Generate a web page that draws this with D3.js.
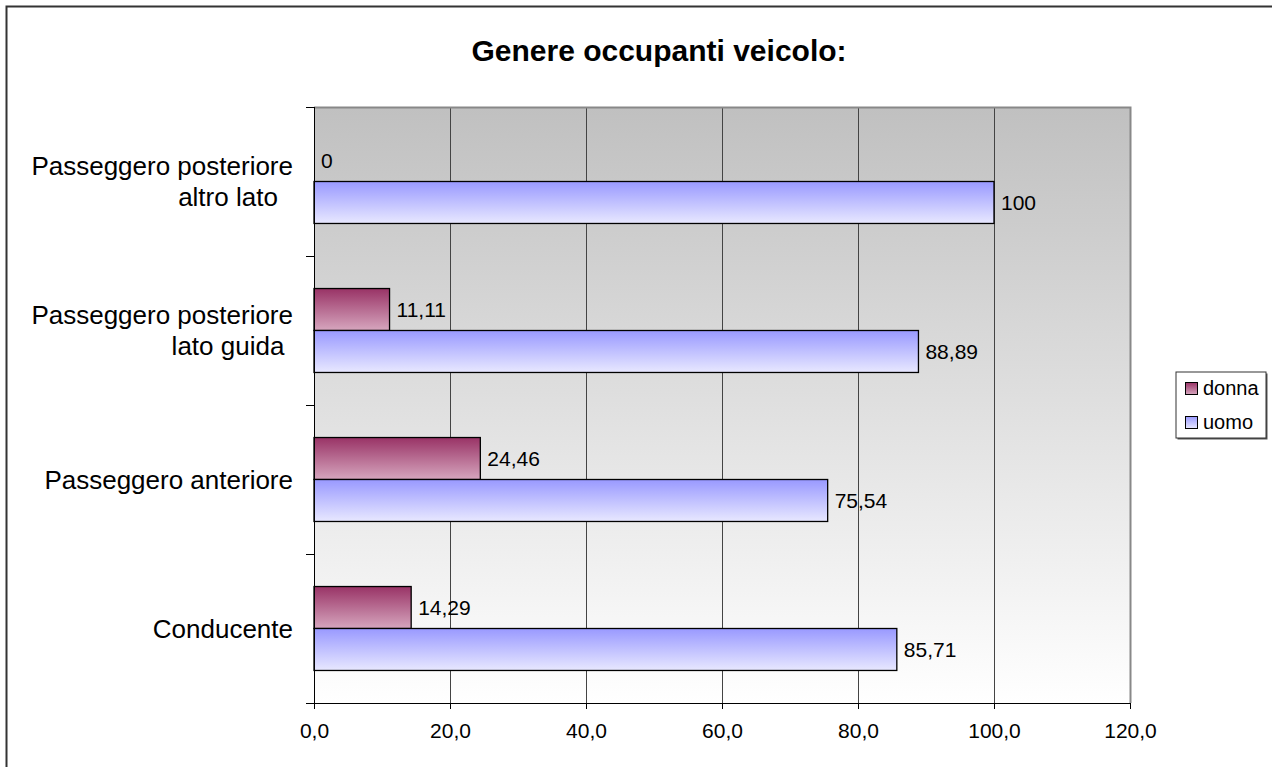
<!DOCTYPE html>
<html>
<head>
<meta charset="utf-8">
<script src="https://cdn.jsdelivr.net/npm/d3@7"></script>
<style>
  body { margin: 0; background: #fff; }
  svg { display: block; font-family: "Liberation Sans", Arial, sans-serif; }
</style>
</head>
<body>
<div id="chart"></div>
<script>
// data, top to bottom as drawn
var categories = [
	["Passeggero posteriore", "altro lato"],
	["Passeggero posteriore", "lato guida"],
	["Passeggero anteriore"],
	["Conducente"]
];
var donna = [0, 11.11, 24.46, 14.29];
var uomo = [100, 88.89, 75.54, 85.71];
var seriesNames = ["donna", "uomo"];
var xTicks = [0, 20, 40, 60, 80, 100, 120];

var W = 1272, H = 767;
var plot = {left: 314, top: 107, right: 1130, bottom: 703};

var svg = d3.select("#chart").append("svg")
	.attr("width", W)
	.attr("height", H);

var defs = svg.append("defs");
function vgrad(id, c1, c2){
	var g = defs.append("linearGradient").attr("id", id)
		.attr("x1", 0).attr("y1", 0).attr("x2", 0).attr("y2", 1);
	g.append("stop").attr("offset", "0%").attr("stop-color", c1);
	g.append("stop").attr("offset", "100%").attr("stop-color", c2);
}
vgrad("bg", "#c0c0c0", "#ffffff");
vgrad("gDonna", "#993366", "#d6a6be");
vgrad("gUomo", "#9999ff", "#e8e8ff");

// outer border
svg.append("rect")
	.attr("x", 6.5).attr("y", 6.5)
	.attr("width", 1300).attr("height", 800)
	.attr("fill", "#fff")
	.attr("stroke", "#333")
	.attr("stroke-width", 2);

svg.append("text")
	.attr("x", 659).attr("y", 61)
	.attr("text-anchor", "middle")
	.style("font-size", "30px")
	.style("font-weight", "bold")
	.text("Genere occupanti veicolo:");

var x = d3.scaleLinear().domain([0, 120]).range([plot.left, plot.right]);
var y = d3.scaleBand().domain(d3.range(categories.length)).range([plot.top, plot.bottom]);
var yEdge = d3.scaleLinear().domain([0, categories.length]).range([plot.top, plot.bottom]);
var inner = d3.scaleBand().domain(seriesNames).range([0, y.bandwidth()]).paddingOuter(0.775);

// plot area
svg.append("rect")
	.attr("x", plot.left).attr("y", plot.top)
	.attr("width", plot.right - plot.left)
	.attr("height", plot.bottom - plot.top)
	.attr("fill", "url(#bg)");

// gridlines
svg.append("g")
	.selectAll("line")
	.data(xTicks.filter(function(d){ return d > 0 && d < 120; }))
	.enter().append("line")
	.attr("x1", function(d){ return Math.round(x(d)) + 0.5; })
	.attr("x2", function(d){ return Math.round(x(d)) + 0.5; })
	.attr("y1", plot.top).attr("y2", plot.bottom)
	.attr("stroke", "#444")
	.attr("stroke-width", 1);

// plot border (top + right)
svg.append("path")
	.attr("d", "M" + plot.left + "," + (plot.top + 0.5) + "H" + (plot.right + 0.5) + "V" + plot.bottom)
	.attr("fill", "none")
	.attr("stroke", "#888")
	.attr("stroke-width", 2);

// bars
var rows = categories.map(function(c, i){ return {i: i, donna: donna[i], uomo: uomo[i]}; });
var grads = {donna: "url(#gDonna)", uomo: "url(#gUomo)"};

seriesNames.forEach(function(s){
	svg.selectAll(".bar-" + s)
		.data(rows)
		.enter().append("rect")
		.attr("class", "bar-" + s)
		.attr("x", x(0))
		.attr("y", function(d){ return y(d.i) + inner(s); })
		.attr("width", function(d){ return x(d[s]) - x(0); })
		.attr("height", inner.bandwidth())
		.attr("fill", grads[s])
		.attr("stroke", "#000")
		.attr("stroke-width", 1.3);

	svg.selectAll(".lab-" + s)
		.data(rows)
		.enter().append("text")
		.attr("class", "lab-" + s)
		.attr("x", function(d){ return x(d[s]) + 7; })
		.attr("y", function(d){ return y(d.i) + inner(s) + inner.bandwidth() / 2; })
		.attr("dy", "0.35em")
		.style("font-size", "21px")
		.text(function(d){ return String(d[s]).replace(".", ","); });
});

// x axis
var xAxis = svg.append("g")
	.attr("transform", "translate(0," + plot.bottom + ")")
	.call(d3.axisBottom(x).tickValues(xTicks).tickSize(6).tickPadding(14)
		.tickFormat(function(d){ return d3.format(".1f")(d).replace(".", ","); }));
xAxis.selectAll("text").style("font-size", "21px").attr("fill", "#000");
xAxis.selectAll("line").attr("stroke", "#000");
xAxis.select(".domain").attr("stroke", "#000").attr("d", "M" + (plot.left - 8) + ",0.5H" + plot.right);

// y axis
var yAxis = svg.append("g")
	.attr("transform", "translate(" + plot.left + ",0)")
	.call(d3.axisLeft(yEdge).tickValues(d3.range(categories.length + 1)).tickSize(8).tickFormat(""));
yAxis.selectAll("line").attr("stroke", "#000");
yAxis.select(".domain").attr("stroke", "#000").attr("d", "M0.5," + plot.top + "V" + plot.bottom);

// category labels: first line right aligned, continuation line centred a bit left
var lineH = 31, labelRight = 293;
categories.forEach(function(lines, i){
	var cy = y(i) + y.bandwidth() / 2;
	lines.forEach(function(l, k){
		svg.append("text")
			.attr("x", k == 0 ? labelRight : labelRight - 65)
			.attr("y", cy + (k - (lines.length - 1) / 2) * lineH)
			.attr("dy", "0.35em")
			.attr("text-anchor", k == 0 ? "end" : "middle")
			.style("font-size", "26px")
			.text(l);
	});
});

// legend
var leg = svg.append("g").attr("transform", "translate(1176,372)");
leg.append("rect")
	.attr("x", 1.5).attr("y", 1.5).attr("width", 90).attr("height", 66)
	.attr("fill", "#555");
leg.append("rect")
	.attr("width", 90).attr("height", 66)
	.attr("fill", "#fff").attr("stroke", "#333").attr("stroke-width", 1);
seriesNames.forEach(function(s, k){
	var g = leg.append("g").attr("transform", "translate(0," + (16 + k * 34) + ")");
	g.append("rect")
		.attr("x", 9.5).attr("y", -5.5).attr("width", 12).attr("height", 12)
		.attr("fill", grads[s]).attr("stroke", "#000");
	g.append("text")
		.attr("x", 27).attr("y", 0).attr("dy", "0.35em")
		.style("font-size", "20px")
		.text(s);
});
</script>
</body>
</html>
